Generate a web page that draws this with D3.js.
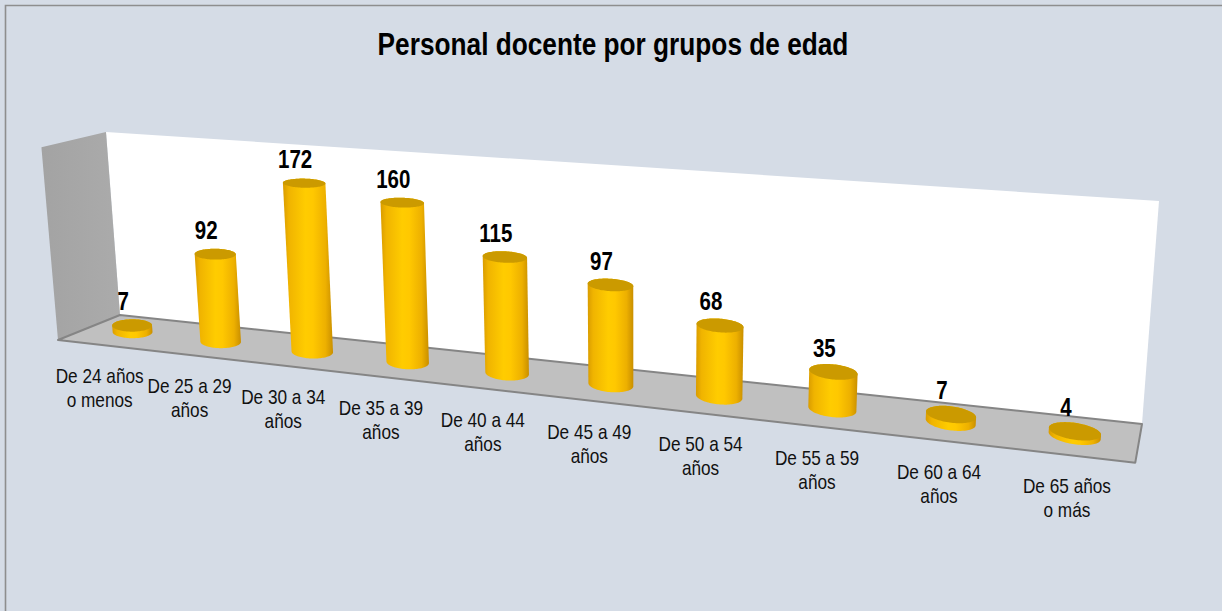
<!DOCTYPE html>
<html><head><meta charset="utf-8">
<script src="https://cdn.jsdelivr.net/npm/d3@7"></script>
<style>html,body{margin:0;padding:0;background:#D5DCE6;} svg{display:block;}</style>
</head><body>
<svg id="chart" width="1222" height="611"></svg>
<script>
// ---------------- data ----------------
const categories = ["De 24 años\no menos","De 25 a 29\naños","De 30 a 34\naños","De 35 a 39\naños","De 40 a 44\naños","De 45 a 49\naños","De 50 a 54\naños","De 55 a 59\naños","De 60 a 64\naños","De 65 años\no más"];
const values = [7, 92, 172, 160, 115, 97, 68, 35, 7, 4];
const titleText = "Personal docente por grupos de edad";
const yMax = 200;

// ---------------- layout (projected corners of the 3D box) ----------------
const W = 1222, H = 611;
const wallQuad = [[120,315],[1142,424],[1159,201],[106,132]]; // back wall: (X,Y)=(0,0),(1,0),(1,1),(0,1)
const floorFrontA = [58,340], floorFrontB = [1135,465];       // (0,0,1) and (1,0,1)

function squareToQuad(q){
  const [x0,y0]=q[0],[x1,y1]=q[1],[x2,y2]=q[2],[x3,y3]=q[3];
  const dx1=x1-x2, dx2=x3-x2, dx3=x0-x1+x2-x3;
  const dy1=y1-y2, dy2=y3-y2, dy3=y0-y1+y2-y3;
  const den=dx1*dy2-dx2*dy1;
  const g=(dx3*dy2-dx2*dy3)/den, h=(dx1*dy3-dx3*dy1)/den;
  return {a:x1-x0+g*x1, b:x3-x0+h*x3, c:x0, d:y1-y0+g*y1, e:y3-y0+h*y3, f:y0, g, h};
}
const hm = squareToQuad(wallQuad);
const p1=[hm.a,hm.d,hm.g], p2=[hm.b,hm.e,hm.h], p4=[hm.c,hm.f,1];
const A=floorFrontA, B=floorFrontB;
const lam = -(((hm.a-B[0]*hm.g)*(A[0]-B[0]) + (hm.d-B[1]*hm.g)*(A[1]-B[1])) / ((A[0]-B[0])**2 + (A[1]-B[1])**2));
const p3=[lam*A[0]-p4[0], lam*A[1]-p4[1], lam-p4[2]];
function P(X,Y,Z){
  const x=p1[0]*X+p2[0]*Y+p3[0]*Z+p4[0];
  const y=p1[1]*X+p2[1]*Y+p3[1]*Z+p4[1];
  const w=p1[2]*X+p2[2]*Y+p3[2]*Z+p4[2];
  return [x/w,y/w];
}

// ---------------- scales ----------------
const xs = d3.scaleBand().domain(categories).range([0,1]);
const ys = d3.scaleLinear().domain([0,yMax]).range([0,1]);
const rX = xs.bandwidth()*0.205, rZ = rX*7.4, zBar = 0.5, ellK = 1.45;

// ---------------- fonts ----------------
function fontAvailable(name){
  const c=document.createElement("canvas").getContext("2d");
  c.font="40px monospace"; const w0=c.measureText("De 24 años Personal").width;
  c.font="40px '"+name+"', monospace"; const w1=c.measureText("De 24 años Personal").width;
  return Math.abs(w0-w1)>1;
}
const narrowOK = fontAvailable("Liberation Sans Narrow");
const FONT = narrowOK ? "'Liberation Sans Narrow','Arial Narrow',sans-serif" : "'Liberation Sans',Arial,sans-serif";
const SX = narrowOK ? 1 : 0.82;

const svg = d3.select("#chart");
const defs = svg.append("defs");
const grad = defs.append("linearGradient").attr("id","cyl").attr("x1",0).attr("x2",1).attr("y1",0).attr("y2",0);
[[0,"#D99C00"],[0.12,"#F0B400"],[0.45,"#FFCC00"],[0.6,"#FFC800"],[0.85,"#EDB000"],[1,"#C98F00"]]
  .forEach(([o,c])=>grad.append("stop").attr("offset",o).attr("stop-color",c));
const sideGrad = defs.append("linearGradient").attr("id","side").attr("x1",0).attr("x2",1);
sideGrad.append("stop").attr("offset",0).attr("stop-color","#A3A3A3");
sideGrad.append("stop").attr("offset",1).attr("stop-color","#ABABAB");

// background + frame
svg.append("rect").attr("width",W).attr("height",H).attr("fill","#D5DCE6");
svg.append("path").attr("d","M5.5,611V5.5H1222").attr("fill","none").attr("stroke","#8E8E8E").attr("stroke-width",1.6);

function poly(pts){ return "M"+pts.map(p=>p[0].toFixed(2)+","+p[1].toFixed(2)).join("L")+"Z"; }

// walls and floor
svg.append("path").attr("d",poly([P(0,0,0),P(1,0,0),P(1,1,0),P(0,1,0)])).attr("fill","#FFFFFF");
svg.append("path").attr("d",poly([P(0,0,0),P(0,1,0),P(0,1,1),P(0,0,1)])).attr("fill","url(#side)");
svg.append("path").attr("d",poly([P(0,0,0),P(1,0,0),P(1,0,1),P(0,0,1)]))
  .attr("fill","#C0C0C0").attr("stroke","#858585").attr("stroke-width",2).attr("stroke-linejoin","round");

// cylinders
const N=96;
const bars = svg.append("g");
categories.forEach((c,i)=>{
  const X = xs(c)+xs.bandwidth()/2;
  const Yt = ys(values[i]);
  const ring = (Y)=>{
    const ctr = P(X, Y, zBar);
    return d3.range(N).map(k=>{
      const t=2*Math.PI*k/N;
      const p=P(X+rX*Math.cos(t), Y, zBar+rZ*Math.sin(t));
      return [p[0], ctr[1]+(p[1]-ctr[1])*ellK];
    });
  };
  const bot = ring(0), top = ring(Yt);
  const hull = d3.polygonHull(bot.concat(top));
  bars.append("path").attr("d",poly(hull)).attr("fill","url(#cyl)");
  bars.append("path").attr("d",poly(top)).attr("fill","#CB9A00");
});

// value labels
const vl = svg.append("g");
categories.forEach((c,i)=>{
  const X = xs(c)+xs.bandwidth()/2;
  const t = P(X, ys(values[i]), zBar);
  vl.append("g").attr("transform",`translate(${t[0]-9},${t[1]-15}) scale(${SX},1)`)
    .append("text").attr("text-anchor","middle").attr("font-family",FONT).attr("font-weight","bold")
    .attr("font-size",25).attr("fill","#000").text(values[i]);
});

// category labels
const cl = svg.append("g");
categories.forEach((c,i)=>{
  const X = xs(c)+xs.bandwidth()/2;
  const a = P(X, 0, 1);
  const t = cl.append("g").attr("transform",`translate(${a[0]-2},${a[1]+38}) scale(${SX},1)`)
    .append("text").attr("text-anchor","middle").attr("font-family",FONT).attr("font-size",21).attr("fill","#111");
  c.split("\n").forEach((ln,j)=>t.append("tspan").attr("x",0).attr("dy",j?24:0).text(ln));
});

// title
svg.append("g").attr("transform",`translate(613,55) scale(${SX},1)`)
  .append("text").attr("text-anchor","middle").attr("font-family",FONT).attr("font-weight","bold")
  .attr("font-size",32).attr("fill","#000").text(titleText);
</script>
</body></html>
